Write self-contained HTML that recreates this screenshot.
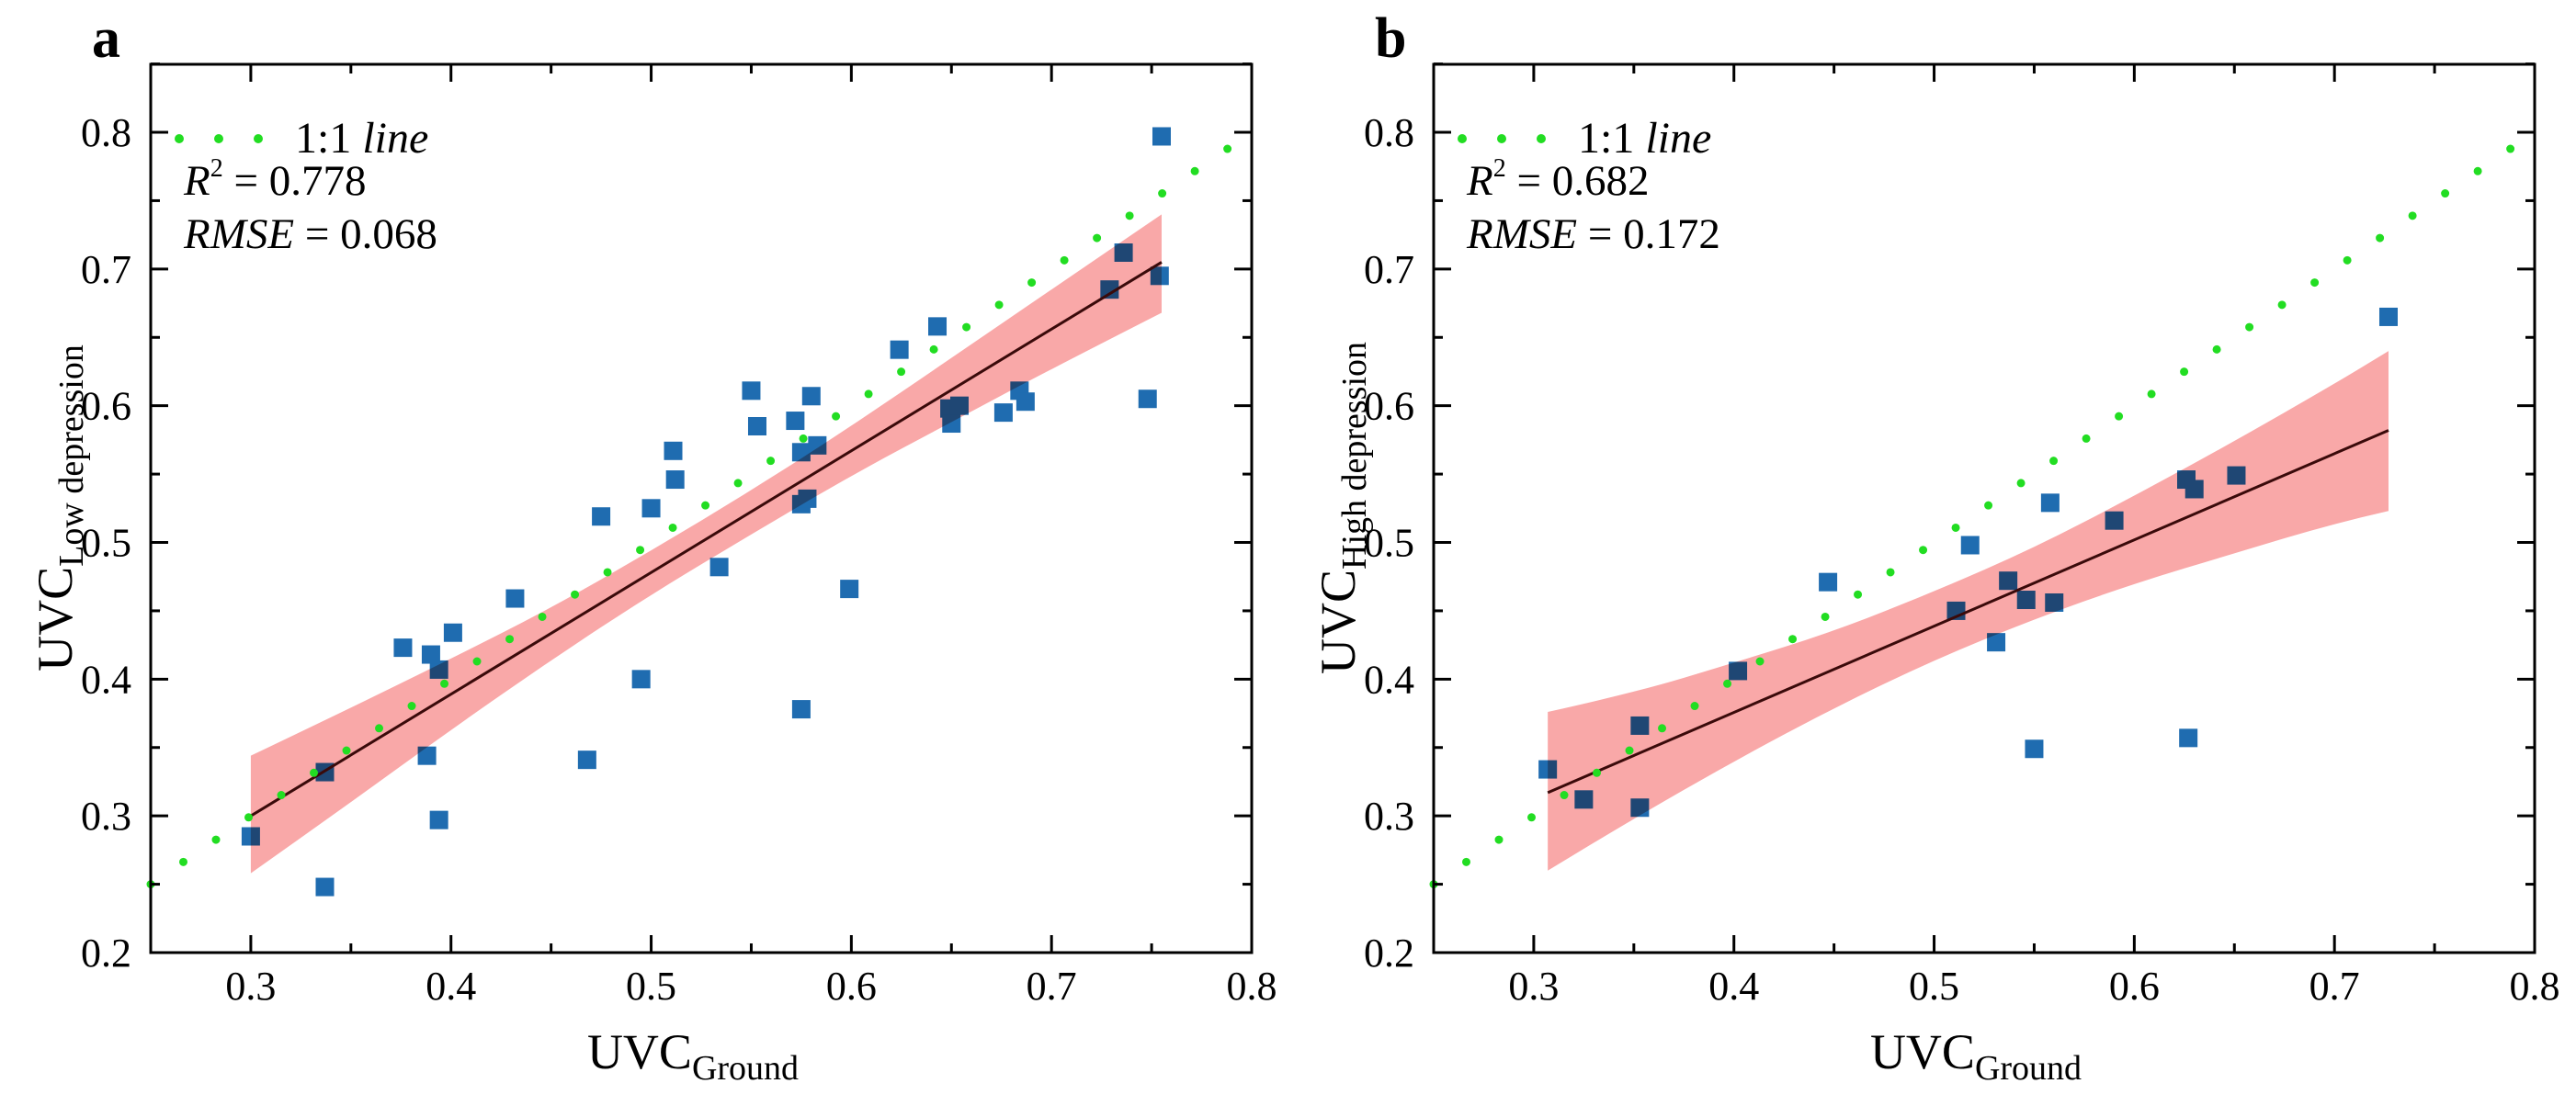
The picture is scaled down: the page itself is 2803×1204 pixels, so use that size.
<!DOCTYPE html>
<html><head><meta charset="utf-8"><style>
html,body{margin:0;padding:0;background:#fff}
svg{display:block;font-family:"Liberation Serif",serif}
</style></head><body>
<svg id="chart" width="2803" height="1204" viewBox="0 0 2803 1204" xmlns="http://www.w3.org/2000/svg"></svg>
<script>
// Panel a data
const aX=[0.300,0.337,0.337,0.394,0.388,0.394,0.390,0.376,0.401,0.432,0.468,0.475,0.495,0.500,0.511,0.512,0.534,0.550,0.553,0.572,0.575,0.575,0.578,0.580,0.583,0.575,0.599,0.624,0.643,0.649,0.650,0.654,0.676,0.684,0.687,0.729,0.736,0.748,0.754,0.755];
const aY=[0.285,0.248,0.332,0.297,0.344,0.407,0.418,0.423,0.434,0.459,0.341,0.519,0.400,0.525,0.567,0.546,0.482,0.611,0.585,0.589,0.566,0.528,0.532,0.607,0.571,0.378,0.466,0.641,0.658,0.598,0.587,0.600,0.595,0.611,0.603,0.685,0.712,0.605,0.695,0.797];
const aFitX=[0.300,0.755];
const aFitY=[0.300,0.705];
const aBandX=[0.300,0.350,0.400,0.450,0.500,0.550,0.600,0.650,0.700,0.755];
const aBandLo=[0.258,0.310,0.363,0.414,0.462,0.506,0.549,0.588,0.627,0.668];
const aBandHi=[0.344,0.379,0.415,0.452,0.494,0.538,0.585,0.635,0.685,0.740];
// Panel b data
const bX=[0.307,0.325,0.353,0.353,0.402,0.447,0.511,0.518,0.531,0.537,0.546,0.550,0.558,0.560,0.590,0.626,0.630,0.627,0.651,0.727];
const bY=[0.334,0.312,0.366,0.306,0.406,0.471,0.450,0.498,0.427,0.472,0.458,0.349,0.529,0.456,0.516,0.546,0.539,0.357,0.549,0.665];
const bFitX=[0.307,0.727];
const bFitY=[0.317,0.582];
const bBandX=[0.307,0.350,0.400,0.450,0.500,0.550,0.600,0.650,0.700,0.727];
const bBandLo=[0.260,0.298,0.340,0.379,0.414,0.444,0.470,0.492,0.514,0.523];
const bBandHi=[0.376,0.390,0.412,0.435,0.464,0.496,0.534,0.574,0.616,0.640];
// axes
const xTicks=[0.3,0.4,0.5,0.6,0.7,0.8];
const yTicks=[0.2,0.3,0.4,0.5,0.6,0.7,0.8];
const xTickLabels=["0.3","0.4","0.5","0.6","0.7","0.8"];
const yTickLabels=["0.2","0.3","0.4","0.5","0.6","0.7","0.8"];
const oneToOne=[0.25,0.8];

const NS="http://www.w3.org/2000/svg";
const svg=document.getElementById('chart');
function el(tag,attrs,parent){const e=document.createElementNS(NS,tag);for(const k in attrs)e.setAttribute(k,attrs[k]);(parent||svg).appendChild(e);return e;}

function panel(cfg){
  const X0=cfg.x0,X1=cfg.x0+1198,YB=1037,YT=70;
  const sx=v=>X0+(v-0.25)/0.55*(X1-X0);
  const sy=v=>YB-(v-0.2)*1488.3;
  const g=el('g',{});
  
  
  // band path (smooth via quadratic midpoints)
  const up=cfg.bx.map((x,i)=>[sx(x),sy(cfg.bhi[i])]);
  const lo=cfg.bx.map((x,i)=>[sx(x),sy(cfg.blo[i])]).reverse();
  function smooth(p,start){
    let d=(start?'M':'L')+p[0][0]+','+p[0][1];
    for(let i=1;i<p.length-1;i++){const mx=(p[i][0]+p[i+1][0])/2,my=(p[i][1]+p[i+1][1])/2;d+='Q'+p[i][0]+','+p[i][1]+' '+mx+','+my;}
    d+='L'+p[p.length-1][0]+','+p[p.length-1][1];return d;
  }
  const d=smooth(up,true)+smooth(lo,false)+'Z';
  const pts=el('g',{},g);
  
  
  cfg.px.forEach((x,i)=>{
    const r=el('rect',{x:sx(x)-10,y:sy(cfg.py[i])-10,width:20,height:20,fill:'#1f6cb0'},pts);
    
    
  });
  const band=el('path',{d:d,fill:'#f9a8a8',style:'mix-blend-mode:multiply'},g);
  
  
  const fit=el('line',{x1:sx(cfg.fx[0]),y1:sy(cfg.fy[0]),x2:sx(cfg.fx[1]),y2:sy(cfg.fy[1]),stroke:'#3a0a0a','stroke-width':3},g);
  
  
  const one=el('line',{x1:sx(oneToOne[0]),y1:sy(oneToOne[0]),x2:sx(oneToOne[1]),y2:sy(oneToOne[1]),stroke:'#22dd22','stroke-width':9,'stroke-linecap':'round','stroke-dasharray':'0 43'},g);
  
  
  const fr=el('rect',{x:X0,y:YT,width:X1-X0,height:YB-YT,fill:'none',stroke:'#000','stroke-width':3},g);
  
  
  for(let v=0.25;v<=0.801;v+=0.05){
    const major=Math.abs(v*10-Math.round(v*10))<0.01;const L=major?19:10;const x=sx(v);
    el('line',{x1:x,y1:YB,x2:x,y2:YB-L,stroke:'#000','stroke-width':3},g);
    el('line',{x1:x,y1:YT,x2:x,y2:YT+L,stroke:'#000','stroke-width':3},g);
  }
  for(let v=0.2;v<=0.851;v+=0.05){
    const major=Math.abs(v*10-Math.round(v*10))<0.01;const L=major?19:10;const y=sy(v);
    el('line',{x1:X0,y1:y,x2:X0+L,y2:y,stroke:'#000','stroke-width':3},g);
    el('line',{x1:X1,y1:y,x2:X1-L,y2:y,stroke:'#000','stroke-width':3},g);
  }
  xTicks.forEach((v,i)=>{const t=el('text',{x:sx(v),y:1088,'font-size':44,'text-anchor':'middle'},g);t.textContent=xTickLabels[i];
    });
  yTicks.forEach((v,i)=>{const t=el('text',{x:X0-21,y:sy(v)+15,'font-size':44,'text-anchor':'end'},g);t.textContent=yTickLabels[i];
    });
  const xt=el('text',{x:X0+590,y:1163,'font-size':54,'text-anchor':'middle'},g);
  xt.innerHTML='UVC<tspan font-size="38" dy="12">Ground</tspan>';
  
  const yt=el('text',{x:0,y:0,'font-size':54,'text-anchor':'middle',transform:`translate(${X0-86},553) rotate(-90)`},g);
  yt.innerHTML='UVC<tspan font-size="38" dy="12">'+cfg.ysub+'</tspan>';
  
  const pl=el('text',{x:X0-64,y:62,'font-size':62,'font-weight':'bold'},g);pl.textContent=cfg.letter;
  
  const lg=el('g',{},g);
  [31,74,117].forEach(dx=>el('circle',{cx:X0+dx,cy:151,r:5,fill:'#22dd22'},lg));
  const lt=el('text',{x:X0+157,y:166,'font-size':48},lg);lt.innerHTML='1:1 <tspan font-style="italic">line</tspan>';
  const r2=el('text',{x:X0+36,y:212,'font-size':47},g);
  r2.innerHTML='<tspan font-style="italic">R</tspan><tspan font-size="28" dy="-20">2</tspan><tspan dy="20"> = '+cfg.r2+'</tspan>';
  
  const rm=el('text',{x:X0+36,y:270,'font-size':47},g);
  rm.innerHTML='<tspan font-style="italic">RMSE</tspan> = '+cfg.rmse;
  
}
panel({name:'panel-a',x0:164,letter:'a',ysub:'Low depression',r2:'0.778',rmse:'0.068',px:aX,py:aY,fx:aFitX,fy:aFitY,bx:aBandX,blo:aBandLo,bhi:aBandHi});
panel({name:'panel-b',x0:1560,letter:'b',ysub:'High depression',r2:'0.682',rmse:'0.172',px:bX,py:bY,fx:bFitX,fy:bFitY,bx:bBandX,blo:bBandLo,bhi:bBandHi});
</script>
</body></html>
